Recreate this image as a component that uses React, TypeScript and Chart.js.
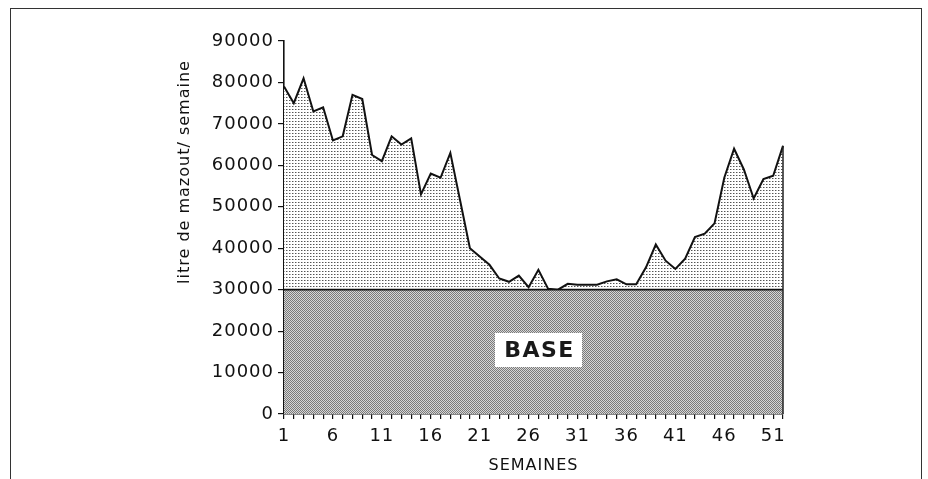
import React, { useEffect, useRef } from 'react';
import { Chart, registerables } from 'chart.js';

Chart.register(...registerables);

// ---- data ----
const WEEKS = [
  '1', '2', '3', '4', '5', '6', '7', '8', '9', '10',
  '11', '12', '13', '14', '15', '16', '17', '18', '19', '20',
  '21', '22', '23', '24', '25', '26', '27', '28', '29', '30',
  '31', '32', '33', '34', '35', '36', '37', '38', '39', '40',
  '41', '42', '43', '44', '45', '46', '47', '48', '49', '50',
  '51', '52',
];

const X_TICK_LABELS = ['1', '6', '11', '16', '21', '26', '31', '36', '41', '46', '51'];

const Y_MIN = 0;
const Y_MAX = 90000;
const Y_STEP = 10000;

const BASE_LOAD = [
  30000, 30000, 30000, 30000, 30000, 30000, 30000, 30000, 30000, 30000,
  30000, 30000, 30000, 30000, 30000, 30000, 30000, 30000, 30000, 30000,
  30000, 30000, 30000, 30000, 30000, 30000, 30000, 30000, 30000, 30000,
  30000, 30000, 30000, 30000, 30000, 30000, 30000, 30000, 30000, 30000,
  30000, 30000, 30000, 30000, 30000, 30000, 30000, 30000, 30000, 30000,
  30000, 30000,
];

const CONSUMPTION = [
  79000, 75000, 81000, 73000, 74000, 66000, 67000, 77000, 76000, 62500,
  61000, 67000, 65000, 66500, 53000, 58000, 57000, 63000, 51500, 40000,
  38000, 36000, 32700, 31900, 33400, 30600, 34800, 30200, 30000, 31400,
  31200, 31200, 31200, 32000, 32500, 31300, 31300, 35400, 40900, 37000,
  35000, 37500, 42700, 43500, 46000, 57000, 64000, 59000, 52000, 56700,
  57500, 64700,
];

const Y_TITLE = 'litre de mazout/ semaine';
const X_TITLE = 'SEMAINES';
const BASE_LABEL = 'BASE';

function makePattern(
  ctx: CanvasRenderingContext2D,
  size: number,
  draw: (g: CanvasRenderingContext2D) => void
) {
  const c = document.createElement('canvas');
  c.width = size;
  c.height = size;
  const g = c.getContext('2d')!;
  draw(g);
  return ctx.createPattern(c, 'repeat')!;
}

const decorPlugin = {
  id: 'decor',
  beforeDraw(chart: any) {
    chart.ctx.letterSpacing = '1px';
  },
  afterDatasetsDraw(chart: any) {
    const { ctx, scales } = chart;
    const meta = chart.getDatasetMeta(1);
    const last = meta.data[meta.data.length - 1];
    if (!last) return;
    ctx.save();
    ctx.strokeStyle = '#222';
    ctx.lineWidth = 1.5;
    ctx.beginPath();
    ctx.moveTo(last.x, last.y);
    ctx.lineTo(last.x, scales.y.getPixelForValue(0));
    ctx.stroke();
    ctx.restore();
  },
  afterDraw(chart: any) {
    const { ctx, chartArea } = chart;
    ctx.save();
    ctx.letterSpacing = '1px';
    ctx.fillStyle = '#111';
    ctx.font = '16px "DejaVu Sans"';
    ctx.textAlign = 'center';
    ctx.textBaseline = 'middle';
    // y title
    ctx.save();
    ctx.translate(chartArea.left - 99, chartArea.top + 131);
    ctx.rotate(-Math.PI / 2);
    ctx.fillText(Y_TITLE, 0, 0);
    ctx.restore();
    // x title
    const cx = (chartArea.left + chartArea.right) / 2;
    ctx.fillText(X_TITLE, cx, chartArea.bottom + 52);
    // BASE label
    const bx = cx + 5;
    const by = chartArea.bottom - 64;
    ctx.fillStyle = '#fff';
    ctx.fillRect(bx - 43.5, by - 17, 87, 34);
    ctx.fillStyle = '#1a1a1a';
    ctx.font = 'bold 22px "DejaVu Sans"';
    ctx.letterSpacing = '1.5px';
    ctx.fillText(BASE_LABEL, bx + 1, by + 1);
    ctx.restore();
  },
};

export default function App() {
  const ref = useRef<HTMLCanvasElement>(null);

  useEffect(() => {
    const canvas = ref.current!;
    const ctx = canvas.getContext('2d')!;
    const upperPattern = makePattern(ctx, 3, (g) => {
      g.fillStyle = '#ffffff';
      g.fillRect(0, 0, 3, 3);
      g.fillStyle = '#555555';
      g.fillRect(1, 1, 1, 1);
      g.fillStyle = '#b0b0b0';
      g.fillRect(2, 1, 1, 1);
    });
    const basePattern = makePattern(ctx, 2, (g) => {
      g.fillStyle = '#d6d6d6';
      g.fillRect(0, 0, 2, 2);
      g.fillStyle = '#7a7a7a';
      g.fillRect(0, 0, 1, 1);
      g.fillRect(1, 1, 1, 1);
    });

    const chart = new Chart(canvas, {
      type: 'line',
      data: {
        labels: WEEKS,
        datasets: [
          {
            label: 'base',
            data: BASE_LOAD,
            borderColor: '#111',
            borderWidth: 1.6,
            backgroundColor: basePattern as any,
            fill: 'origin',
            pointRadius: 0,
            tension: 0,
          },
          {
            label: 'consommation',
            data: CONSUMPTION,
            borderColor: '#111',
            borderWidth: 2,
            backgroundColor: upperPattern as any,
            fill: '-1',
            pointRadius: 0,
            tension: 0,
          },
        ],
      },
      plugins: [decorPlugin],
      options: {
        animation: false,
        responsive: false,
        devicePixelRatio: 1,
        events: [],
        layout: { padding: { top: 41, right: 145, bottom: 0, left: 0 } },
        plugins: {
          legend: { display: false },
          tooltip: { enabled: false },
        },
        scales: {
          x: {
            type: 'category',
            offset: false,
            afterFit: (s: any) => {
              s.height = 65;
            },
            grid: {
              drawOnChartArea: false,
              drawTicks: true,
              tickLength: 5,
              color: '#111',
              lineWidth: 1.2,
            },
            border: { color: '#111', width: 1.6 },
            ticks: {
              autoSkip: false,
              maxRotation: 0,
              minRotation: 0,
              padding: 7,
              color: '#111',
              font: { family: 'DejaVu Sans', size: 18 },
              callback: function (this: any, _v: any, i: number) {
                const lab = WEEKS[i];
                return X_TICK_LABELS.includes(lab) ? lab : '';
              },
            },
          },
          y: {
            min: Y_MIN,
            max: Y_MAX,
            afterFit: (s: any) => {
              s.width = 284;
            },
            grid: {
              drawOnChartArea: false,
              drawTicks: true,
              tickLength: 6,
              color: '#111',
              lineWidth: 1.2,
            },
            border: { color: '#111', width: 1.6 },
            ticks: {
              stepSize: Y_STEP,
              padding: 4,
              color: '#111',
              font: { family: 'DejaVu Sans', size: 18 },
              callback: (v: any) => String(v),
            },
          },
        },
      },
    });
    return () => chart.destroy();
  }, []);

  return (
    <div
      style={{
        position: 'fixed',
        left: 0,
        top: 0,
        width: 928,
        height: 479,
        background: '#fff',
        overflow: 'hidden',
      }}
    >
      <canvas
        ref={ref}
        width={928}
        height={479}
        style={{ position: 'absolute', left: 0, top: 0, width: 928, height: 479 }}
      />
      <div
        style={{
          position: 'absolute',
          left: 10,
          top: 8,
          width: 910,
          height: 490,
          borderLeft: '1.5px solid #333',
          borderTop: '1.5px solid #333',
          borderRight: '1.5px solid #333',
          pointerEvents: 'none',
        }}
      />
    </div>
  );
}
